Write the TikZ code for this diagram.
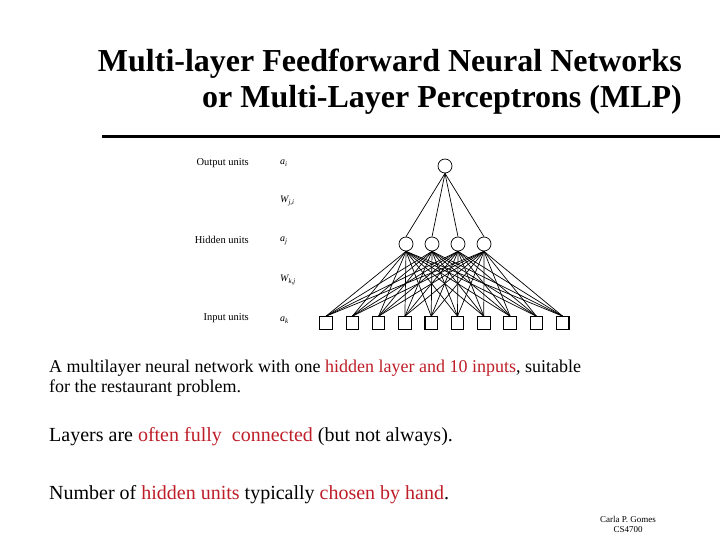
\documentclass[tikz,border=0pt]{standalone}
\usepackage{fontspec}
\setmainfont{Liberation Serif}
\usepackage{xcolor}
\usetikzlibrary{shapes.geometric, positioning}
\definecolor{hilite}{RGB}{190,30,40}
\tikzset{
    neuron/.style={draw, circle, line width=0.7pt, minimum size=14pt, inner sep=0pt},
    inunit/.style={draw, rectangle, line width=1.1pt, minimum size=12.5pt, inner sep=0pt},
    wire/.style={line width=0.7pt},
    layerlbl/.style={font=\fontsize{10.5}{12}\selectfont, anchor=east, inner sep=0pt},
    varlbl/.style={font=\fontsize{10}{12}\selectfont\itshape, anchor=west, inner sep=0pt},
    title/.style={font=\fontsize{32}{36}\selectfont\bfseries, anchor=base east, inner sep=0pt},
    body/.style={anchor=base west, inner sep=0pt},
    footer/.style={font=\fontsize{9}{10}\selectfont, inner sep=0pt}
}

\begin{document}
\begin{tikzpicture}[x=1pt, y=-1pt]
    \useasboundingbox (0,0) rectangle (720,540);

    % title and rule
    \node (t1) [title] at (682,71.5) {Multi-layer Feedforward Neural Networks};
    \node (t2) [title] at (682,107.5) {or Multi-Layer Perceptrons (MLP)};
    \coordinate (r1) at (102,137);
    \coordinate (r2) at (720,137);
    \draw [line width=3pt] (r1) -- (r2);

    % network
    \node (out) [neuron] at (445,166) {};
    \foreach \j in {1,...,4}
        \node (h\j) [neuron] at ({380+26*\j},244) {};
    \foreach \i in {1,...,10}
        \node (in\i) [inunit] at ({326+26.3*(\i-1)},323) {};
    \foreach \j in {1,...,4} {
        \draw [wire] (out.south) -- (h\j.north);
        \foreach \i in {1,...,10}
            \draw [wire] (h\j.south) -- (in\i.north);
    }

    % layer labels
    \node (lo) [layerlbl] at (249,163) {Output units};
    \node (lh) [layerlbl] at (249,240) {Hidden units};
    \node (li) [layerlbl] at (249,318) {Input units};
    \node (ai) [varlbl] at (280,163) {a\textsubscript{i}};
    \node (wji) [varlbl] at (280,201) {W\textsubscript{j,i}};
    \node (aj) [varlbl] at (280,241) {a\textsubscript{j}};
    \node (wkj) [varlbl] at (280,280) {W\textsubscript{k,j}};
    \node (ak) [varlbl] at (280,320) {a\textsubscript{k}};

    % text
    \node (p1) [body, font=\fontsize{18}{20}\selectfont] at (49,372) {A multilayer neural network with one \textcolor{hilite}{hidden layer and 10 inputs}, suitable};
    \node (p2) [body, font=\fontsize{18}{20}\selectfont] at (49,392) {for the restaurant problem.};
    \node (p3) [body, font=\fontsize{20}{22}\selectfont] at (49,441.5) {Layers are \textcolor{hilite}{often fully\ \ connected} (but not always).};
    \node (p4) [body, font=\fontsize{20}{22}\selectfont] at (49,499) {Number of \textcolor{hilite}{hidden units} typically \textcolor{hilite}{chosen by hand}.};

    % footer
    \node (f1) [footer] at (628,519) {Carla P. Gomes};
    \node (f2) [footer] at (628,530) {CS4700};
\end{tikzpicture}
\end{document}
